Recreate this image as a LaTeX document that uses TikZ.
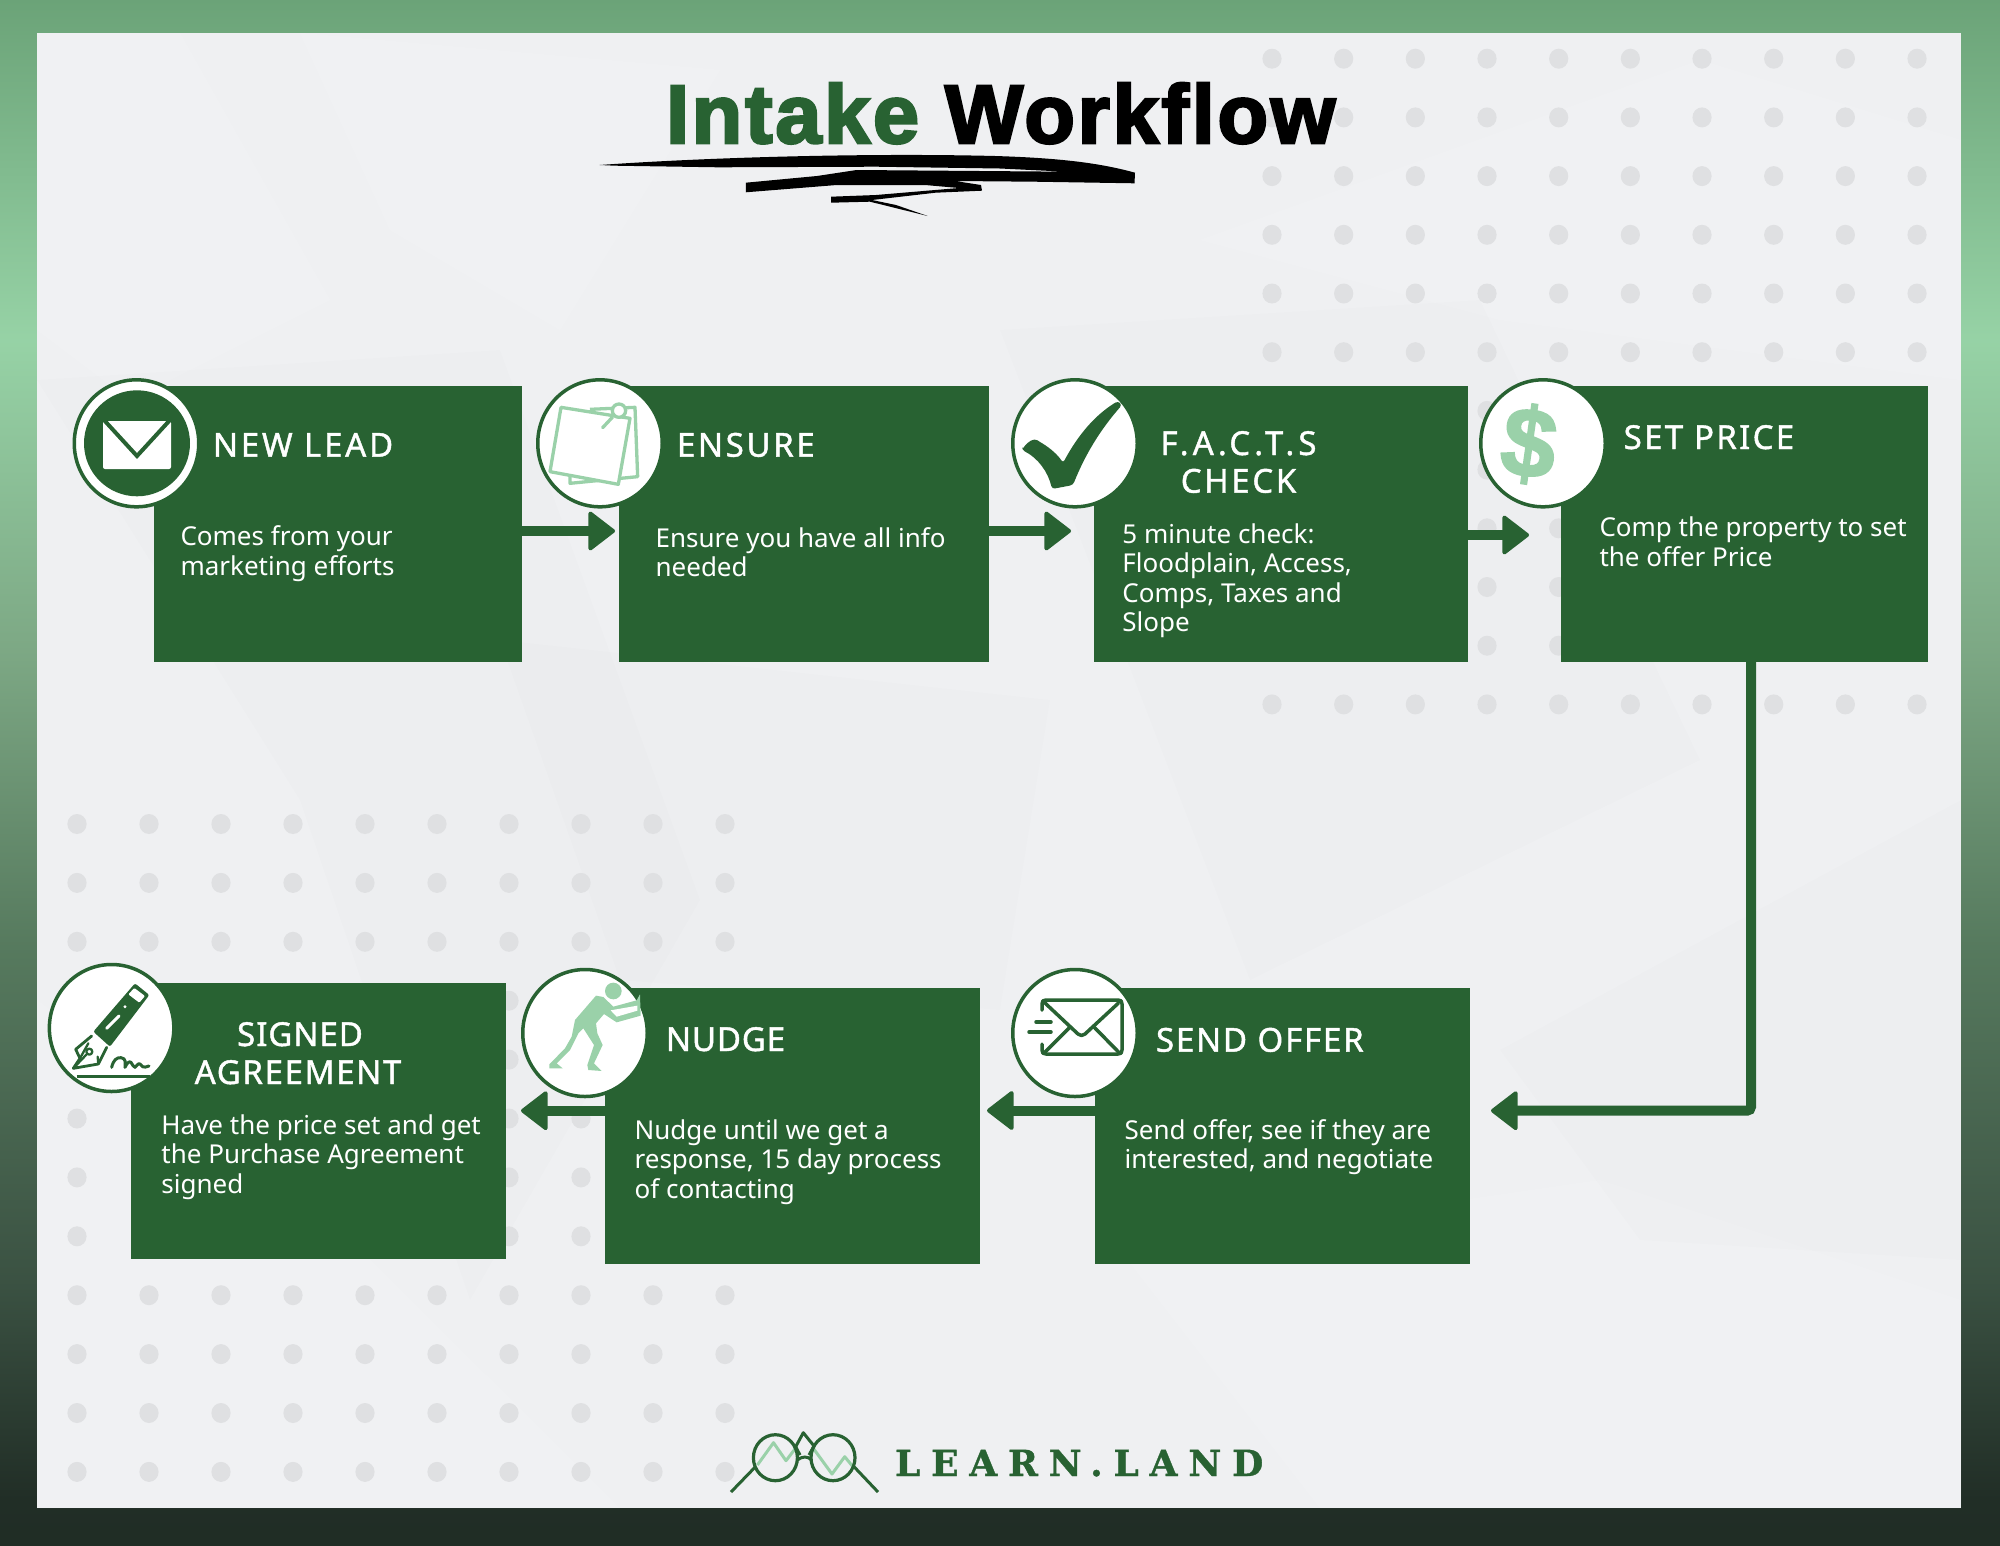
\documentclass[tikz,border=0pt]{standalone}
\usepackage{fontspec}
\usetikzlibrary{arrows.meta,shapes.geometric,calc}
\setmainfont{Noto Sans}
\newfontfamily\headfont{Noto Sans}[FakeBold=1.3]
\newcommand{\hsp}[2]{\addfontfeature{LetterSpace=#1}#2}
\newfontfamily\bodyfont{Noto Sans}
\newfontfamily\titlefont{Liberation Sans}[BoldFeatures={FakeBold=3},LetterSpace=3.2]
\newfontfamily\dollarfont{Liberation Sans}[BoldFeatures={FakeBold=2}]
\newfontfamily\logofont{DejaVu Serif}[BoldFeatures={FakeBold=1},LetterSpace=30]
\definecolor{dk}{HTML}{286232}
\definecolor{lt}{HTML}{9AD1A9}
\definecolor{paper}{HTML}{EFF0F2}
\definecolor{dotc}{HTML}{DFE0E2}
\pgfdeclareverticalshading{framegrad}{100bp}{rgb(0bp)=(0.125,0.175,0.145); rgb(25bp)=(0.125,0.175,0.145); rgb(26.5bp)=(0.13,0.18,0.15); rgb(33.5bp)=(0.23,0.32,0.26); rgb(44.5bp)=(0.34,0.48,0.37); rgb(54bp)=(0.49,0.66,0.52); rgb(64bp)=(0.59,0.825,0.65); rgb(75bp)=(0.42,0.64,0.47); rgb(100bp)=(0.42,0.64,0.47)}
\tikzset{
 stepbox/.style={fill=dk,inner sep=0pt,outer sep=0pt},
 badge/.style={ellipse,draw=dk,line width=3.5pt,fill=white,inner sep=0pt,outer sep=0pt,minimum width=124.5pt,minimum height=127pt},
 conn/.style={draw=dk,line width=10pt,rounded corners=4pt,-{Triangle[length=28pt,width=42pt,round,line width=4pt]}},
 head/.style={text=white,inner sep=0pt,outer sep=0pt,font=\headfont\fontsize{33}{38}\selectfont},
 body/.style={text=white,inner sep=0pt,outer sep=0pt,align=left,anchor=north west,font=\bodyfont\fontsize{26}{29.5}\selectfont},
 iconline/.style={draw=dk,line width=3.5pt,line cap=round,line join=round},
 lightline/.style={draw=lt,line width=3.3pt,line join=round},
 crease/.style={fill=white,opacity=0.12,draw=none},
 shadowfold/.style={fill=black,opacity=0.009,draw=none}
}
\newcommand{\bodyline}{\rule{0pt}{24pt}}
\begin{document}
\begin{tikzpicture}[x=1pt,y=-1pt]
\useasboundingbox (0,0) rectangle (2000,1545);
% frame and paper
\shade[shading=framegrad] (0,0) rectangle (2000,1545);
\fill[paper] (37,33) rectangle (1961,1508);
% paper creases
\begin{scope}
\clip (37,33) rectangle (1961,1508);
\fill[crease] (37,33) -- (180,33) -- (330,300) -- (130,400) -- (37,330) -- cycle;
\fill[crease] (300,33) -- (720,70) -- (560,330) -- (390,230) -- cycle;
\fill[shadowfold] (37,380) -- (500,350) -- (700,900) -- (470,1300) -- (300,800) -- cycle;
\fill[crease] (1200,240) -- (1700,60) -- (1961,140) -- (1961,380) -- (1500,320) -- cycle;
\fill[shadowfold] (1000,330) -- (1480,300) -- (1700,760) -- (1250,980) -- cycle;
\fill[crease] (37,1000) -- (350,1240) -- (620,1508) -- (37,1508) -- cycle;
\fill[shadowfold] (500,640) -- (1050,700) -- (1000,1010) -- (620,980) -- cycle;
\fill[crease] (1120,1250) -- (1600,1180) -- (1961,1300) -- (1961,1508) -- (1320,1508) -- cycle;
\fill[shadowfold] (1500,1050) -- (1961,800) -- (1961,1260) -- (1640,1240) -- cycle;
\end{scope}
% dot grids
\foreach \i in {0,...,9}\foreach \j in {0,...,11}{
 \fill[dotc] (1272+71.67*\i,58.7+58.7*\j) ellipse [x radius=9.6,y radius=10];
 \fill[dotc] (77+72*\i,824+58.9*\j) ellipse [x radius=9.6,y radius=10];
}
% title
\node[inner sep=0pt,outer sep=0pt,anchor=base west,font=\titlefont\bfseries\fontsize{83}{90}\selectfont] (title) at (666,143) {\textcolor{dk}{Intake} \textcolor{black}{Workflow}};
\fill[black] (599.5,165) .. controls (718,156.7) and (876,153) .. (995,156) .. controls (1060,158) and (1100,163) .. (1135,172.7) -- (1134.5,183.3) -- (1034.5,181.7) -- (955,181) -- (981,185) -- (982,190.7) -- (935.6,192.7) -- (872,200) -- (896,205) -- (927.7,216) -- (870,201.7) -- (831,202.7) -- (831,196.7) -- (876,195) -- (959,188) -- (925,185) -- (836.8,185) -- (745.8,192.3) -- (745.8,182.7) -- (817,176) -- (856.6,170) -- (1066,171.7) -- (1000,168.5) -- (876,166.7) -- (718,167.3) -- (615,165.7) -- cycle;
% boxes
\node[stepbox,minimum width=368pt,minimum height=276.5pt] (lead) at (337.7,524) {};
\node[stepbox,minimum width=370.4pt,minimum height=276.5pt] (ensure) at (803.8,524) {};
\node[stepbox,minimum width=373.8pt,minimum height=276.5pt] (facts) at (1280.6,524) {};
\node[stepbox,minimum width=367pt,minimum height=276.5pt] (price) at (1744.5,524) {};
\node[stepbox,minimum width=375pt,minimum height=276pt] (signed) at (318.5,1121) {};
\node[stepbox,minimum width=375pt,minimum height=276pt] (nudge) at (792,1126) {};
\node[stepbox,minimum width=375pt,minimum height=276pt] (offer) at (1282.5,1126) {};
% connectors
\coordinate (t1) at (615,531);
\coordinate (t2) at (1071,531);
\coordinate (t3) at (1529,535);
\coordinate (t4) at (1491,1110.7);
\coordinate (t5) at (987,1110.5);
\coordinate (t6) at (521,1110.7);
\coordinate (bend) at (1751,662);
\draw[conn] (lead.east |- t1) -- (t1);
\draw[conn] (ensure.east |- t2) -- (t2);
\draw[conn] (facts.east |- t3) -- (t3);
\draw[conn] (bend) |- (t4);
\draw[conn] (offer.west |- t5) -- (t5);
\draw[conn] (nudge.west |- t6) -- (t6);
% badges
\node[badge] (b1) at (136.5,443.3) {};
\node[badge] (b2) at (600,443.3) {};
\node[badge] (b3) at (1075,443.3) {};
\node[badge] (b4) at (1543,443.3) {};
\node[badge] (b5) at (111.6,1028) {};
\node[badge] (b6) at (585,1033) {};
\node[badge] (b7) at (1075,1033) {};
% icon 1 envelope
\fill[dk] (137,443.3) ellipse [x radius=53,y radius=53];
\fill[white,rounded corners=2pt] (103,421) rectangle (171,469);
\draw[dk,line width=4pt,line join=miter] (104,420) -- (137,456) -- (170,420);
% icon 2 notes
\begin{scope}[shift={(535,375)},x=0.3333pt,y=-0.3333pt]
\draw[lightline] (165,103) -- (300,97) -- (308,305) -- (105,325) -- (105,300);
\draw[lightline,fill=white] (78,97) -- (285,130) -- (250,328) -- (45,290) -- cycle;
\draw[lightline,fill=white] (252,107) circle [radius=20];
\draw[lightline,line cap=round] (232,127) -- (203,158);
\end{scope}
% icon 3 check
\fill[dk,rounded corners=3pt] (1022,450) .. controls (1028,441) and (1034,438) .. (1040,442) .. controls (1050,448) and (1058,455) .. (1063,463) .. controls (1078,435) and (1095,415) .. (1118,401) -- (1122,405) .. controls (1100,430) and (1085,455) .. (1073,485) -- (1052,489) .. controls (1048,472) and (1038,458) .. (1022,450) -- cycle;
% icon 4 dollar
\node[inner sep=0pt,outer sep=0pt,text=lt,rotate=-8,font=\dollarfont\bfseries\fontsize{98}{98}\selectfont] (dollar) at (1529,444) {\$};
% icon 5 pen
\begin{scope}[shift={(45,960)},x=0.3333pt,y=-0.3333pt]
\fill[dk,rounded corners=2pt] (270,70) -- (313,105) -- (195,260) -- (145,215) -- cycle;
\fill[white,rounded corners=1pt] (268,84) -- (300,108) -- (283,128) -- (250,103) -- cycle;
\fill[white] (240,140) circle [radius=5];
\draw[white,line width=3pt,line cap=round] (222,168) -- (185,205);
\draw[iconline,line width=2.8pt] (140,228) -- (92,268) -- (105,295) -- (85,325) -- (160,312) -- (185,262);
\draw[iconline,line width=2.3pt] (85,325) -- (124,284);
\draw[iconline,line width=2.3pt] (133,275) circle [radius=9];
\draw[iconline,line width=2.3pt] (105,295) -- (130,250);
\draw[iconline,line width=2.3pt] (160,312) -- (158,290);
\draw[iconline,line width=3pt] (200,322) .. controls (205,300) and (215,292) .. (228,293) .. controls (245,295) and (240,310) .. (240,322) .. controls (246,310) and (252,302) .. (258,307) .. controls (262,312) and (264,320) .. (270,322) .. controls (275,318) and (280,308) .. (285,312) .. controls (288,318) and (295,326) .. (312,318);
\draw[dk,line width=2.6pt] (95,350) -- (315,350);
\end{scope}
% icon 6 pushing figure
\begin{scope}[shift={(520,965)},x=0.3333pt,y=-0.3333pt]
\fill[lt] (280,78) circle [radius=25];
\fill[lt] (228,92) -- (250,96) -- (280,125) -- (350,106) -- (360,88) -- (362,152) -- (290,172) -- (252,147) -- (228,175) -- (232,205) -- (248,240) -- (222,295) -- (245,318) -- (205,315) -- (202,300) -- (222,240) -- (190,190) -- (175,205) -- (150,255) -- (110,295) -- (128,310) -- (88,310) -- (88,298) -- (135,250) -- (155,215) -- (165,165) -- cycle;
\fill[white] (272,136) -- (352,122) -- (352,137) -- (290,155) -- cycle;
\end{scope}
% icon 7 sending envelope
\draw[iconline] (1042,1010) -- (1042,1004) .. controls (1042,1001) and (1043,1000) .. (1046,1000) -- (1118,1000) .. controls (1121,1000) and (1122,1001) .. (1122,1004) -- (1122,1050) .. controls (1122,1053) and (1121,1054) .. (1118,1054) -- (1046,1054) .. controls (1043,1054) and (1042,1053) .. (1042,1050) -- (1042,1044);
\draw[iconline] (1045,1003) -- (1078,1034) .. controls (1080,1036) and (1083,1036) .. (1085,1034) -- (1118.5,1003);
\draw[iconline] (1045,1052) -- (1070,1027);
\draw[iconline] (1118.5,1052) -- (1094,1027);
\draw[iconline] (1036,1022) -- (1051,1022);
\draw[iconline] (1029,1032) -- (1051,1032);
% headings
\node[head,anchor=base west] (h1) at (213,456.7) {\hsp{8.4}{NEW LEAD}};
\node[head,anchor=base west] (h2) at (677,456.7) {\hsp{8}{ENSURE}};
\node[head,anchor=base] (h3) at (1238.5,455) {\hsp{12.5}{F.A.C.T.S}};
\node[head,anchor=base] (h3b) at (1238.5,492.7) {\hsp{8}{CHECK}};
\node[head,anchor=base west] (h4) at (1623.7,449) {\hsp{7}{SET PRICE}};
\node[head,anchor=base] (h5) at (300,1046) {\hsp{3}{SIGNED}};
\node[head,anchor=base] (h5b) at (298,1084) {\hsp{5}{AGREEMENT}};
\node[head,anchor=base west] (h6) at (666,1051) {\hsp{2.6}{NUDGE}};
\node[head,anchor=base west] (h7) at (1156,1051.7) {\hsp{5.5}{SEND OFFER}};
% body text
\node[body] (t-lead) at (180.5,521.5) {\bodyline Comes from your\\marketing efforts};
\node[body] (t-ensure) at (655.6,523) {\bodyline Ensure you have all info\\needed};
\node[body] (t-facts) at (1122.4,519) {\bodyline 5 minute check:\\Floodplain, Access,\\Comps, Taxes and\\Slope};
\node[body] (t-price) at (1599.5,512.5) {\bodyline Comp the property to set\\the offer Price};
\node[body] (t-signed) at (161.4,1110) {\bodyline Have the price set and get\\the Purchase Agreement\\signed};
\node[body] (t-nudge) at (634.6,1115) {\bodyline Nudge until we get a\\response, 15 day process\\of contacting};
\node[body] (t-offer) at (1124.7,1115) {\bodyline Send offer, see if they are\\interested, and negotiate};
% logo
\draw[lt,line width=3pt,line join=round] (757.4,1465) -- (773.5,1442.7) -- (786,1460.7) -- (795.7,1448);
\draw[lt,line width=3pt,line join=round] (814,1449.3) -- (832,1474) -- (844.7,1456.7) -- (854,1468);
\draw[dk,line width=3.2pt] (775.4,1457.7) ellipse [x radius=22,y radius=23];
\draw[dk,line width=3.2pt] (833,1457.7) ellipse [x radius=22,y radius=23];
\draw[dk,line width=3pt] (755.5,1466.7) -- (731,1492);
\draw[dk,line width=3pt] (854,1466.7) -- (878,1492);
\draw[dk,line width=3pt] (797.4,1460) .. controls (802,1456) and (808,1456) .. (811.5,1460);
\draw[dk,line width=3pt,line join=round] (795.7,1446.7) -- (803.3,1432.7) -- (814,1446) -- (809,1455);
\draw[dk,line width=3pt] (795.7,1446.7) -- (800,1455);
\node[inner sep=0pt,outer sep=0pt,anchor=base west,text=dk,font=\logofont\bfseries\fontsize{36}{40}\selectfont] (logo) at (895,1476) {LEARN.LAND};
\end{tikzpicture}
\end{document}
